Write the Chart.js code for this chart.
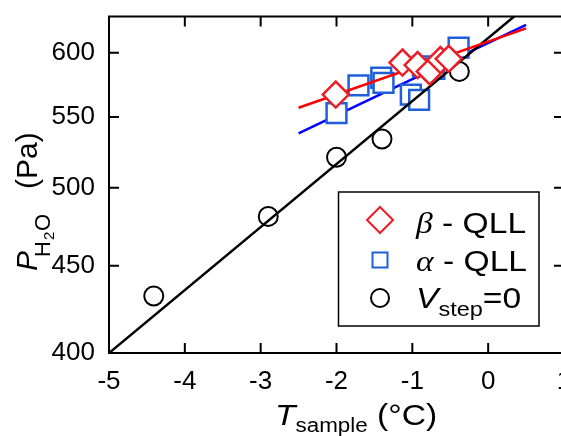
<!DOCTYPE html>
<html>
<head>
<meta charset="utf-8">
<script src="https://cdn.jsdelivr.net/npm/chart.js@4.4.1/dist/chart.umd.min.js"></script>
<style>
  html, body { margin: 0; padding: 0; background: #fff; overflow: hidden; }
  /* a bit wider than the window: the right frame edge falls outside, as in the figure */
  #wrap { position: relative; width: 600px; height: 436px; }
</style>
</head>
<body>
<div id="wrap"><canvas id="chart"></canvas></div>
<script>
// axis ticks
const xTicks = [-5, -4, -3, -2, -1, 0, 1];
const yTicks = [400, 450, 500, 550, 600];

// beta - QLL (red diamonds)
const betaT = [-2.01, -1.13, -0.93, -0.77, -0.63, -0.52];
const betaP = [567, 592, 590, 585, 594, 595];

// alpha - QLL (blue squares)
const alphaT = [-2.00, -1.71, -1.41, -1.38, -1.02, -0.91, -0.86, -0.71, -0.39];
const alphaP = [553, 574, 580, 576, 567, 563, 589, 587, 604];

// V_step = 0 (black circles)
const zeroT = [-4.41, -2.90, -2.00, -1.40, -0.38];
const zeroP = [432, 481, 521, 534, 585];

// fitted lines, end points
const fitZeroT = [-5, 0.5];
const fitZeroP = [400, 638.5];
const fitBetaT = [-2.5, 0.5];
const fitBetaP = [557, 620];
const fitAlphaT = [-2.5, 0.5];
const fitAlphaP = [538, 623];

const RED = '#ee1c24';
const BLUE = '#1f5fdc';
const SANS = '"Liberation Sans", Arial, sans-serif';
const SERIF = '"Liberation Serif", "Times New Roman", serif';
const SX = 1.12; // the figure's text is a little wide

function pts(xs, ys) {
    return xs.map((x, i) => ({ x: x, y: ys[i] }));
}

// draw text pieces one after another (for sub-scripts)
function drawParts(ctx, parts, x, y, sx) {
    let cx = x;
    parts.forEach(p => {
        ctx.font = p.font;
        const start = p.at !== undefined ? x + p.at : cx;
        ctx.save();
        ctx.translate(start, y + (p.dy || 0));
        ctx.scale(sx, 1);
        ctx.fillText(p.t, 0, 0);
        ctx.restore();
        cx = start + ctx.measureText(p.t).width * sx;
    });
}

const decor = {
    id: 'decor',
    afterDraw(chart) {
        const { ctx, chartArea: a, scales } = chart;
        ctx.save();

        // frame and inner ticks on all four sides
        ctx.strokeStyle = '#000';
        ctx.lineWidth = 2;
        ctx.strokeRect(a.left, a.top, a.right - a.left, a.bottom - a.top);
        ctx.beginPath();
        xTicks.forEach(v => {
            const px = scales.x.getPixelForValue(v);
            ctx.moveTo(px, a.bottom); ctx.lineTo(px, a.bottom - 10);
            ctx.moveTo(px, a.top); ctx.lineTo(px, a.top + 10);
        });
        yTicks.forEach(v => {
            const py = scales.y.getPixelForValue(v);
            ctx.moveTo(a.left, py); ctx.lineTo(a.left + 10, py);
            ctx.moveTo(a.right, py); ctx.lineTo(a.right - 10, py);
        });
        ctx.stroke();

        ctx.fillStyle = '#000';
        ctx.textAlign = 'left';
        ctx.textBaseline = 'alphabetic';

        // x title: T_sample (°C)
        drawParts(ctx, [
            { t: 'T', font: 'italic 30px ' + SANS },
            { t: 'sample', font: '20px ' + SANS, dy: 7 },
            { t: ' (°C)', font: '30px ' + SANS }
        ], a.left + 166, 425, SX);

        // y title: P_H2O (Pa), rotated
        ctx.save();
        ctx.translate(37, 271);
        ctx.rotate(-Math.PI / 2);
        drawParts(ctx, [
            { t: 'P', font: 'italic 30px ' + SANS, at: 0 },
            { t: 'H', font: '22px ' + SANS, dy: 13, at: 14 },
            { t: '2', font: '15px ' + SANS, dy: 17, at: 31 },
            { t: 'O', font: '22px ' + SANS, dy: 13, at: 40 },
            { t: '(Pa)', font: '30px ' + SANS, at: 82 }
        ], 0, 0, 1);
        ctx.restore();

        // legend box
        const lx = 338.5, ly = 192, lw = 200.5, lh = 134;
        ctx.fillStyle = '#fff';
        ctx.fillRect(lx, ly, lw, lh);
        ctx.lineWidth = 1.5;
        ctx.strokeRect(lx, ly, lw, lh);

        const mx = 380;
        ctx.lineWidth = 2;
        // diamond
        ctx.strokeStyle = RED;
        ctx.beginPath();
        ctx.moveTo(mx - 13, 220); ctx.lineTo(mx, 207); ctx.lineTo(mx + 13, 220); ctx.lineTo(mx, 233);
        ctx.closePath();
        ctx.stroke();
        // square
        ctx.strokeStyle = BLUE;
        ctx.strokeRect(mx - 7.5, 252.5, 15, 15);
        // circle
        ctx.strokeStyle = '#000';
        ctx.beginPath();
        ctx.arc(mx, 298, 9, 0, Math.PI * 2);
        ctx.stroke();

        ctx.fillStyle = '#000';
        drawParts(ctx, [
            { t: 'β', font: 'italic 30px ' + SERIF },
            { t: ' - QLL', font: '30px ' + SANS }
        ], 416, 233, SX);
        drawParts(ctx, [
            { t: 'α', font: 'italic 30px ' + SERIF },
            { t: ' - QLL', font: '30px ' + SANS }
        ], 416, 271, SX);
        drawParts(ctx, [
            { t: 'V', font: 'italic 30px ' + SANS },
            { t: 'step', font: '21px ' + SANS, dy: 8 },
            { t: '=0', font: '30px ' + SANS }
        ], 416, 308, SX);

        ctx.restore();
    }
};

new Chart(document.getElementById('chart'), {
    type: 'scatter',
    data: {
        datasets: [
            {
                label: 'β - QLL',
                data: pts(betaT, betaP),
                order: 0,
                pointStyle: 'rectRot',
                pointRadius: 13,
                borderWidth: 2.5,
                borderColor: RED,
                backgroundColor: '#fff'
            },
            {
                label: 'β fit',
                data: pts(fitBetaT, fitBetaP),
                order: 1,
                showLine: true,
                pointRadius: 0,
                borderWidth: 2.5,
                borderColor: '#ff0000'
            },
            {
                label: 'Vstep=0',
                data: pts(zeroT, zeroP),
                order: 2,
                pointStyle: 'circle',
                pointRadius: 9.5,
                borderWidth: 2,
                borderColor: '#000',
                backgroundColor: 'rgba(0,0,0,0)'
            },
            {
                label: 'Vstep=0 fit',
                data: pts(fitZeroT, fitZeroP),
                order: 3,
                showLine: true,
                pointRadius: 0,
                borderWidth: 2.5,
                borderColor: '#000'
            },
            {
                label: 'α - QLL',
                data: pts(alphaT, alphaP),
                order: 4,
                pointStyle: 'rect',
                pointRadius: 14,
                borderWidth: 2.5,
                borderColor: BLUE,
                backgroundColor: '#fff'
            },
            {
                label: 'α fit',
                data: pts(fitAlphaT, fitAlphaP),
                order: 5,
                showLine: true,
                pointRadius: 0,
                borderWidth: 2.5,
                borderColor: '#0000ff'
            }
        ]
    },
    options: {
        responsive: true,
        maintainAspectRatio: false,
        animation: false,
        events: [],
        layout: { padding: { top: 15, right: 36, left: 0, bottom: 0 } },
        plugins: {
            legend: { display: false },
            tooltip: { enabled: false }
        },
        scales: {
            x: {
                type: 'linear',
                min: -5,
                max: 1,
                grid: { display: false },
                border: { display: false },
                ticks: {
                    stepSize: 1,
                    autoSkip: false,
                    maxRotation: 0,
                    padding: 5,
                    color: '#000',
                    font: { family: SANS, size: 26 }
                },
                afterFit: s => { s.height = 83; s.paddingLeft = 0; s.paddingRight = 0; }
            },
            y: {
                type: 'logarithmic',
                min: 400,
                max: 630,
                grid: { display: false },
                border: { display: false },
                afterBuildTicks: s => { s.ticks = yTicks.map(v => ({ value: v })); },
                ticks: {
                    padding: 6,
                    color: '#000',
                    font: { family: SANS, size: 26 },
                    callback: v => String(v)
                },
                afterFit: s => { s.width = 109; s.paddingTop = 0; s.paddingBottom = 0; }
            }
        }
    },
    plugins: [decor]
});
</script>
</body>
</html>
